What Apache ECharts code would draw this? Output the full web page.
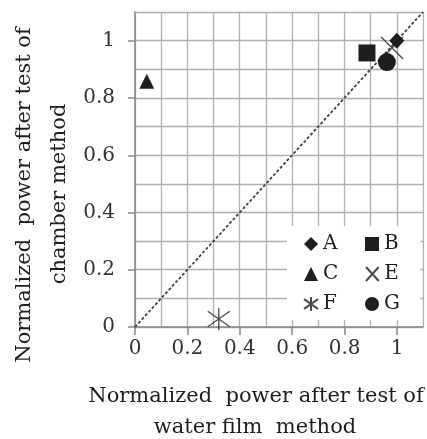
<!DOCTYPE html>
<html>
<head>
<meta charset="utf-8">
<script src="https://cdn.jsdelivr.net/npm/echarts@6/dist/echarts.min.js"></script>
<style>
  html, body { margin: 0; padding: 0; background: #fff; }
  #chart { width: 427px; height: 439px; }
</style>
</head>
<body>
<div id="chart"></div>
<script>
// tick labels
const tickValues = [0, 0.2, 0.4, 0.6, 0.8, 1]
// series names and points [water film, chamber]
const names = ['A', 'B', 'C', 'E', 'F', 'G']
const pointA = [[1.0, 1.0]]
const pointB = [[0.886, 0.957]]
const pointC = [[0.045, 0.858]]
const pointE = [[0.982, 0.974]]
const pointF = [[0.32, 0.028]]
const pointG = [[0.962, 0.925]]
// y = x reference line
const diagonal = [[0, 0], [1.1, 1.1]]

const font = 'DejaVu Serif'
const ink = '#1e1e1e'

const myChart = echarts.init(document.getElementById('chart'))

const markStyle = (symbol, size, stroke) => ({
  type: 'scatter',
  xAxisIndex: 0,
  yAxisIndex: 0,
  symbol: symbol,
  symbolSize: size,
  z: 5,
  itemStyle: stroke
    ? { color: 'rgba(0,0,0,0)', borderColor: ink, borderWidth: 1.3 }
    : { color: ink, opacity: 1 }
})

const seriesData = [pointA, pointB, pointC, pointE, pointF, pointG]
const symbols = [
  ['diamond', [15, 16], false],
  ['rect', 17, false],
  ['triangle', [15, 15], false],
  ['path://M0,0L20,22M20,0L0,22', 22, true],
  ['path://M0,3L20,17M20,3L0,17M10,0L10,20', 22, true],
  ['circle', 18, false]
]

const series = names.map((n, i) => Object.assign(
  markStyle(symbols[i][0], symbols[i][1], symbols[i][2]),
  { name: n, data: seriesData[i] }
))

series.unshift({
  type: 'line',
  xAxisIndex: 0,
  yAxisIndex: 0,
  data: diagonal,
  symbol: 'none',
  silent: true,
  z: 3,
  lineStyle: { color: '#444', width: 1.8, type: [3, 2] }
})

const options = {
  animation: false,
  //grid 0: gridlines every 0.1 up to 1.1, grid 1: labels 0..1
  grid: [
    { left: 135, top: 12, width: 288, height: 315 },
    { left: 135, top: 41, width: 262, height: 286 }
  ],
  xAxis: [
    {
      gridIndex: 0, type: 'value', min: 0, max: 1.1, interval: 0.1,
      axisLine: { show: true, lineStyle: { color: '#888', width: 1.5 } },
      axisTick: { show: false },
      axisLabel: { show: false },
      splitLine: { show: true, lineStyle: { color: '#b0b0b0', width: 1.3 } }
    },
    {
      gridIndex: 1, type: 'value', min: 0, max: 1, interval: 0.2,
      axisLine: { show: false },
      axisTick: { show: true, customValues: tickValues, length: 8, inside: false, lineStyle: { color: '#888', width: 1.5 } },
      splitLine: { show: false },
      axisLabel: {
        customValues: tickValues,
        margin: 12,
        color: '#333',
        fontFamily: font,
        fontSize: 20,
        formatter: v => String(v)
      }
    }
  ],
  yAxis: [
    {
      gridIndex: 0, type: 'value', min: 0, max: 1.1, interval: 0.1,
      axisLine: { show: true, lineStyle: { color: '#888', width: 1.5 } },
      axisTick: { show: false },
      axisLabel: { show: false },
      splitLine: { show: true, lineStyle: { color: '#b0b0b0', width: 1.3 } }
    },
    {
      gridIndex: 1, type: 'value', min: 0, max: 1, interval: 0.2,
      axisLine: { show: false },
      axisTick: { show: true, customValues: tickValues, length: 7, lineStyle: { color: '#888', width: 1.5 } },
      splitLine: { show: false },
      axisLabel: {
        customValues: tickValues,
        margin: 20,
        color: '#333',
        fontFamily: font,
        fontSize: 20,
        formatter: v => String(v)
      }
    }
  ],
  legend: {
    data: names,
    left: 287,
    top: 226,
    width: 115,
    orient: 'horizontal',
    padding: [8, 4, 6, 16],
    backgroundColor: '#fff',
    itemWidth: 14,
    itemHeight: 14,
    itemGap: 10,
    textStyle: { color: ink, fontFamily: font, fontSize: 20, width: 32, lineHeight: 17 }
  },
  graphic: [
    { type: 'text', x: 256, y: 397, style: { text: 'Normalized  power after test of', font: '21px "DejaVu Serif"', fill: ink, align: 'center', verticalAlign: 'middle' } },
    { type: 'text', x: 255, y: 428, style: { text: 'water film  method', font: '21px "DejaVu Serif"', fill: ink, align: 'center', verticalAlign: 'middle' } },
    { type: 'text', x: 25, y: 195, rotation: Math.PI / 2, style: { text: 'Normalized  power after test of', font: '21px "DejaVu Serif"', fill: ink, align: 'center', verticalAlign: 'middle' } },
    { type: 'text', x: 60, y: 194, rotation: Math.PI / 2, style: { text: 'chamber method', font: '21px "DejaVu Serif"', fill: ink, align: 'center', verticalAlign: 'middle' } }
  ],
  series: series
}
myChart.setOption(options)
</script>
</body>
</html>
